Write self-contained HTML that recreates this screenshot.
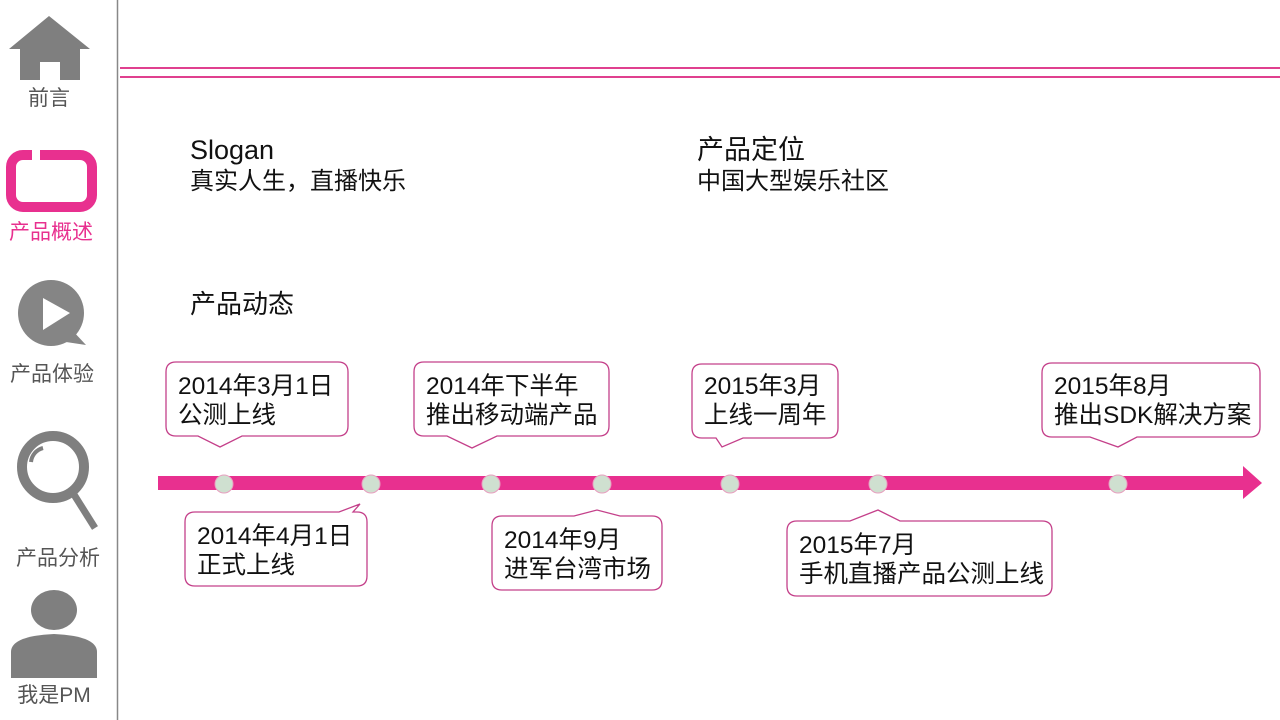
<!DOCTYPE html>
<html><head><meta charset="utf-8"><style>
body{margin:0;width:1280px;height:720px;background:#fff;overflow:hidden;font-family:"Liberation Sans","Noto Sans CJK SC",sans-serif}
svg{position:absolute;left:0;top:0}
</style></head><body>
<svg width="1280" height="720" viewBox="0 0 1280 720" font-family="Liberation Sans, Noto Sans CJK SC, sans-serif">
<line x1="117.5" y1="0" x2="117.5" y2="720" stroke="#888" stroke-width="1.5"/>
<line x1="120" y1="68" x2="1280" y2="68" stroke="#e0408f" stroke-width="2"/>
<line x1="120" y1="77" x2="1280" y2="77" stroke="#e0408f" stroke-width="2"/>
<!-- sidebar icons -->
<polygon points="49,16 90,49 80,49 80,80 60,80 60,62 40,62 40,80 20,80 20,49 9,49" fill="#7f7f7f"/>
<rect x="41" y="62" width="18" height="18" fill="#fff"/>
<text x="49" y="105" font-size="21" fill="#555" text-anchor="middle">前言</text>
<rect x="11" y="155" width="81" height="52" rx="12" fill="none" stroke="#e8308f" stroke-width="10"/>
<rect x="32" y="148" width="8" height="14" fill="#fff"/>
<text x="51" y="239" font-size="21" fill="#e8308f" text-anchor="middle">产品概述</text>
<circle cx="51" cy="313" r="33" fill="#858585"/>
<polygon points="72,330 86,345 66,342" fill="#858585"/>
<polygon points="43,298 43,330 70,313" fill="#fff"/>
<text x="52" y="381" font-size="21" fill="#555" text-anchor="middle">产品体验</text>
<circle cx="53" cy="467" r="31" fill="none" stroke="#7f7f7f" stroke-width="10"/>
<line x1="73" y1="493" x2="95" y2="528" stroke="#7f7f7f" stroke-width="7"/>
<path d="M31,462 A 16 16 0 0 1 43,448" fill="none" stroke="#7f7f7f" stroke-width="4"/>
<text x="58" y="565" font-size="21" fill="#555" text-anchor="middle">产品分析</text>
<ellipse cx="54" cy="610" rx="23" ry="20" fill="#7f7f7f"/>
<path d="M11,678 L11,652 Q11,636 54,634 Q97,636 97,652 L97,678 Z" fill="#7f7f7f"/>
<text x="54" y="702" font-size="21" fill="#555" text-anchor="middle">我是PM</text>
<!-- headings -->
<text x="190" y="159" font-size="27" fill="#111">Slogan</text>
<text x="190" y="189" font-size="24" fill="#111">真实人生，直播快乐</text>
<text x="697" y="159" font-size="27" fill="#111">产品定位</text>
<text x="697" y="189" font-size="24" fill="#111">中国大型娱乐社区</text>
<text x="190" y="313" font-size="26" fill="#111">产品动态</text>
<!-- bar -->
<rect x="158" y="476" width="1087" height="14" fill="#e8308f"/>
<polygon points="1243,466 1262,483 1243,499" fill="#e8308f"/>
<g fill="#cfe0d0" stroke="#e8a0c0" stroke-width="1">
<circle cx="224" cy="484" r="9"/><circle cx="371" cy="484" r="9"/><circle cx="491" cy="484" r="9"/><circle cx="602" cy="484" r="9"/><circle cx="730" cy="484" r="9"/><circle cx="878" cy="484" r="9"/><circle cx="1118" cy="484" r="9"/>
</g>
<!-- callouts -->
<g fill="#fff" stroke="#c4408a" stroke-width="1.3">
<path d="M176,362 H338 Q348,362 348,372 V426 Q348,436 338,436 H242 L220,447 L198,436 H176 Q166,436 166,426 V372 Q166,362 176,362 Z"/>
<path d="M424,362 H599 Q609,362 609,372 V426 Q609,436 599,436 H497 L472,448 L447,436 H424 Q414,436 414,426 V372 Q414,362 424,362 Z"/>
<path d="M702,364 H828 Q838,364 838,374 V428 Q838,438 828,438 H743 L722,447 L716,438 H702 Q692,438 692,428 V374 Q692,364 702,364 Z"/>
<path d="M1052,363 H1250 Q1260,363 1260,373 V427 Q1260,437 1250,437 H1137 L1118,447 L1090,437 H1052 Q1042,437 1042,427 V373 Q1042,363 1052,363 Z"/>
<path d="M195,512 H339 L360,504 L353,512 H357 Q367,512 367,522 V576 Q367,586 357,586 H195 Q185,586 185,576 V522 Q185,512 195,512 Z"/>
<path d="M502,516 H574 L597,510 L620,516 H652 Q662,516 662,526 V580 Q662,590 652,590 H502 Q492,590 492,580 V526 Q492,516 502,516 Z"/>
<path d="M797,521 H850 L878,510 L900,521 H1042 Q1052,521 1052,531 V586 Q1052,596 1042,596 H797 Q787,596 787,586 V531 Q787,521 797,521 Z"/>
</g>
<g font-size="24.5" fill="#111">
<text x="178" y="394">2014年3月1日</text><text x="178" y="423">公测上线</text>
<text x="426" y="394">2014年下半年</text><text x="426" y="423">推出移动端产品</text>
<text x="704" y="394">2015年3月</text><text x="704" y="423">上线一周年</text>
<text x="1054" y="394">2015年8月</text><text x="1054" y="423">推出SDK解决方案</text>
<text x="197" y="544">2014年4月1日</text><text x="197" y="573">正式上线</text>
<text x="504" y="548">2014年9月</text><text x="504" y="577">进军台湾市场</text>
<text x="799" y="553">2015年7月</text><text x="799" y="582">手机直播产品公测上线</text>
</g>
</svg>
</body></html>
